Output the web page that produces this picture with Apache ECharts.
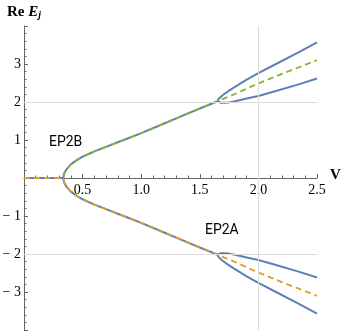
<!DOCTYPE html>
<html><head><meta charset="utf-8">
<script src="https://cdn.jsdelivr.net/npm/echarts@6/dist/echarts.min.js"></script>
<style>html,body{margin:0;padding:0;background:#fff}#c{width:344px;height:335px}</style>
</head><body><div id="c"></div>
<script>
// main branch (before the EP2 bifurcation)
const vMain = [0, 0.1, 0.2, 0.3, 0.335, 0.34, 0.36, 0.4, 0.45, 0.5, 0.6, 0.7, 0.8, 0.9, 1.0, 1.1, 1.2, 1.3, 1.4, 1.5, 1.6, 1.65];
const reMainUp = [0, 0, 0, 0, 0, 0.1, 0.22, 0.36, 0.47, 0.56, 0.70, 0.82, 0.94, 1.06, 1.18, 1.31, 1.44, 1.57, 1.70, 1.83, 1.955, 2.02];
const reMainDown = [0, 0, 0, 0, 0, -0.1, -0.22, -0.36, -0.47, -0.56, -0.70, -0.82, -0.94, -1.06, -1.18, -1.31, -1.44, -1.57, -1.70, -1.83, -1.955, -2.02];
// after bifurcation
const vBranch = [1.65, 1.66, 1.68, 1.7, 1.75, 1.8, 1.9, 2.0, 2.15, 2.35, 2.5];
const reUpOuter = [2.02, 2.08, 2.14, 2.19, 2.30, 2.40, 2.59, 2.76, 3.0, 3.32, 3.57];
const reUpInner = [2.02, 1.99, 1.98, 1.98, 1.99, 2.02, 2.09, 2.16, 2.29, 2.47, 2.62];
const reDownInner = [-2.02, -1.99, -1.98, -1.98, -1.99, -2.02, -2.09, -2.16, -2.29, -2.47, -2.62];
const reDownOuter = [-2.02, -2.08, -2.14, -2.19, -2.30, -2.40, -2.59, -2.76, -3.0, -3.32, -3.57];
const vMid = [1.65, 1.8, 2.0, 2.2, 2.5];
const reMidUp = [2.02, 2.21, 2.49, 2.74, 3.1];
const reMidDown = [-2.02, -2.21, -2.49, -2.74, -3.1];
const xTicks = [0.5, 1.0, 1.5, 2.0, 2.5];
const yTicks = [-3, -2, -1, 1, 2, 3];

const BLUE = '#5E81B5', GREEN = '#8FB131', ORANGE = '#E19C24', AX = '#666';
const zip = (xs, ys) => xs.map((x, i) => [x, ys[i]]);
const blue = (d, g) => ({type: 'line', data: d, xAxisIndex: g, yAxisIndex: g, showSymbol: false, symbol: 'none',
  silent: true, clip: false, z: 3, lineStyle: {color: BLUE, width: 2}});
const dashed = (d, c, g) => ({type: 'line', data: d, xAxisIndex: g, yAxisIndex: g, showSymbol: false, symbol: 'none',
  silent: true, clip: false, z: 4, lineStyle: {color: c, width: 1.8, type: [6, 4]}});
const gridLines = (g, yv) => ({type: 'line', data: [], xAxisIndex: g, yAxisIndex: g, silent: true, z: 1,
  markLine: {silent: true, symbol: 'none', label: {show: false}, animation: false,
    lineStyle: {color: '#DCDCDC', width: 1, type: 'solid'},
    data: [{yAxis: yv}, {xAxis: 2}]}});
const xLab = v => { const m = xTicks.find(t => Math.abs(t - v) < 1e-6); return m === undefined ? '' : m.toFixed(1); };
const yLab = v => { const m = yTicks.find(t => Math.abs(t - v) < 1e-6); return m === undefined ? '' : (m < 0 ? '\u2212 ' + (-m) : String(m)); };
const xAxisBase = (g, show) => ({type: 'value', gridIndex: g, min: 0, max: 2.5, interval: 0.5, position: 'bottom', show: show,
  axisLine: {onZero: false, lineStyle: {color: AX, width: 1}},
  axisTick: {inside: true, length: 4, lineStyle: {color: AX}},
  minorTick: {show: true, splitNumber: 5, length: 2.5, lineStyle: {color: AX}},
  axisLabel: {margin: 5, fontFamily: 'Liberation Serif', fontSize: 14, color: '#000', formatter: xLab},
  splitLine: {show: false}, minorSplitLine: {show: false}});
const yAxisBase = (g, mn, mx) => ({type: 'value', gridIndex: g, min: mn, max: mx, interval: 1,
  axisLine: {onZero: false, lineStyle: {color: AX, width: 1}},
  axisTick: {inside: true, length: 4, lineStyle: {color: AX}},
  minorTick: {show: true, splitNumber: 5, length: 2.5, lineStyle: {color: AX}},
  axisLabel: {margin: 3, fontFamily: 'Liberation Serif', fontSize: 14, color: '#000', formatter: yLab},
  splitLine: {show: false}, minorSplitLine: {show: false}});

const chart = echarts.init(document.getElementById('c'), null, {renderer: 'canvas'});
chart.setOption({
  animation: false,
  grid: [
    {left: 24, right: 27, top: 26, height: 152, outerBoundsMode: 'none'},
    {left: 24, right: 27, top: 178, height: 152, outerBoundsMode: 'none'}
  ],
  xAxis: [xAxisBase(0, true), xAxisBase(1, false)],
  yAxis: [yAxisBase(0, 0, 4), yAxisBase(1, -4, 0)],
  series: [
    gridLines(0, 2),
    gridLines(1, -2),
    blue(zip(vMain, reMainUp).concat(zip(vBranch, reUpOuter).slice(1)), 0),
    blue(zip(vBranch, reUpInner), 0),
    blue(zip(vMain, reMainDown).concat(zip(vBranch, reDownOuter).slice(1)), 1),
    blue(zip(vBranch, reDownInner), 1),
    dashed(zip(vMain, reMainUp).concat(zip(vMid, reMidUp).slice(1)), GREEN, 0),
    dashed(zip(vMain, reMainDown).concat(zip(vMid, reMidDown).slice(1)), ORANGE, 1)
  ],
  graphic: [
    {type: 'text', left: 7, top: 5, style: {rich: {
      a: {fontFamily: 'Liberation Serif', fontSize: 15, fontWeight: 'bold', fill: '#000'},
      b: {fontFamily: 'Liberation Serif', fontSize: 15, fontWeight: 'bold', fontStyle: 'italic', fill: '#000'},
      c: {fontFamily: 'Liberation Serif', fontSize: 10, fontWeight: 'bold', fontStyle: 'italic', fill: '#000', verticalAlign: 'bottom', padding: [6, 0, 0, 0]}},
      text: '{a|Re }{b|E}{c|j}'}},
    {type: 'text', left: 330, top: 168, style: {text: 'V', fontFamily: 'Liberation Serif', fontSize: 15, fontWeight: 'bold', fill: '#000'}},
    {type: 'text', x: 49, y: 142, scaleX: 0.93, style: {text: 'EP2B', fontFamily: 'Roboto', fontSize: 15, fill: '#000', verticalAlign: 'middle'}},
    {type: 'text', x: 205, y: 230.5, scaleX: 0.93, style: {text: 'EP2A', fontFamily: 'Roboto', fontSize: 15, fill: '#000', verticalAlign: 'middle'}}
  ]
});
</script></body></html>
